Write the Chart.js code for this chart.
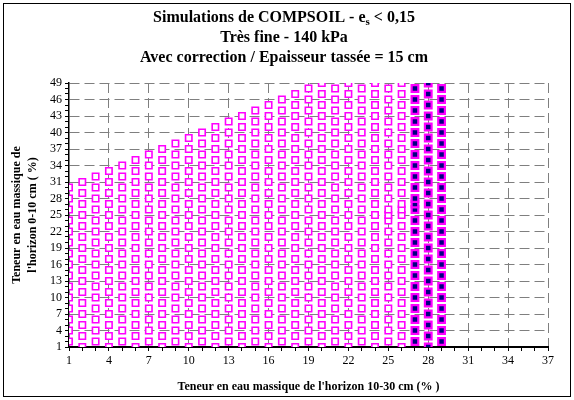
<!DOCTYPE html>
<html>
<head>
<meta charset="utf-8">
<script src="https://cdn.jsdelivr.net/npm/chart.js@4/dist/chart.umd.min.js"></script>
<style>
  html, body { margin: 0; padding: 0; background: #fff; }
  #wrap { width: 574px; height: 400px; position: relative; }
</style>
</head>
<body>
<div id="wrap"><canvas id="compsoil"></canvas></div>
<script>
"use strict";

// water content of the 10-30 cm horizon (x) and simulated points of the 0-10 cm horizon (y)
var xMagenta = [1, 2, 3, 4, 5, 6, 7, 8, 9, 10, 11, 12, 13, 14, 15, 16, 17, 18, 19, 20, 21, 22, 23, 24, 25, 26];
var yMagenta = [
  [2,4,6,8,10,12,14,16,18,20,22,24,26,28,30],
  [1,3,5,7,9,11,13,15,17,19,21,23,25,27,29,31],
  [2,4,6,8,10,12,14,16,18,20,22,24,26,28,30,32],
  [1,3,5,7,9,11,13,15,17,19,21,23,25,27,29,31,33],
  [2,4,6,8,10,12,14,16,18,20,22,24,26,28,30,32,34],
  [1,3,5,7,9,11,13,15,17,19,21,23,25,27,29,31,33,35],
  [2,4,6,8,10,12,14,16,18,20,22,24,26,28,30,32,34,36],
  [1,3,5,7,9,11,13,15,17,19,21,23,25,27,29,31,33,35,37],
  [2,4,6,8,10,12,14,16,18,20,22,24,26,28,30,32,34,36,38],
  [1,3,5,7,9,11,13,15,17,19,21,23,25,27,29,31,33,35,37,39],
  [2,4,6,8,10,12,14,16,18,20,22,24,26,28,30,32,34,36,38,40],
  [1,3,5,7,9,11,13,15,17,19,21,23,25,27,29,31,33,35,37,39,41],
  [2,4,6,8,10,12,14,16,18,20,22,24,26,28,30,32,34,36,38,40,42],
  [1,3,5,7,9,11,13,15,17,19,21,23,25,27,29,31,33,35,37,39,41,43],
  [2,4,6,8,10,12,14,16,18,20,22,24,26,28,30,32,34,36,38,40,42,44],
  [1,3,5,7,9,11,13,15,17,19,21,23,25,27,29,31,33,35,37,39,41,43,45],
  [2,4,6,8,10,12,14,16,18,20,22,24,26,28,30,32,34,36,38,40,42,44,46],
  [1,3,5,7,9,11,13,15,17,19,21,23,25,27,29,31,33,35,37,39,41,43,45,47],
  [2,4,6,8,10,12,14,16,18,20,22,24,26,28,30,32,34,36,38,40,42,44,46,48],
  [1,3,5,7,9,11,13,15,17,19,21,23,25,27,29,31,33,35,37,39,41,43,45,47,49],
  [2,4,6,8,10,12,14,16,18,20,22,24,26,28,30,32,34,36,38,40,42,44,46,48],
  [1,3,5,7,9,11,13,15,17,19,21,23,25,27,29,31,33,35,37,39,41,43,45,47,49],
  [2,4,6,8,10,12,14,16,18,20,22,24,26,28,30,32,34,36,38,40,42,44,46,48],
  [1,3,5,7,9,11,13,15,17,19,21,23,25,27,29,31,33,35,37,39,41,43,45,47,49],
  [2,4,6,8,10,12,14,16,18,20,22,24,25,26,28,30,32,34,36,38,40,42,44,46,48],
  [1,3,5,7,9,11,13,15,17,19,21,23,25,26,27,29,31,33,35,37,39,41,43,45,47,49]
];
var xNavy = [27, 28, 29];
var yNavy = [
  [2,4,6,8,10,12,14,16,18,20,22,24,26,27,28,30,32,34,36,38,40,42,44,46,48],
  [1,3,5,7,9,11,13,15,17,19,21,23,25,27,29,31,33,35,37,39,41,43,45,47,49],
  [2,4,6,8,10,12,14,16,18,20,22,24,26,28,30,32,34,36,38,40,42,44,46,48]
];
var xTickLabels = [1, 4, 7, 10, 13, 16, 19, 22, 25, 28, 31, 34, 37];
var yTickLabels = [1, 4, 7, 10, 13, 16, 19, 22, 25, 28, 31, 34, 37, 40, 43, 46, 49];

var titleLines = ['Très fine - 140 kPa', 'Avec correction / Epaisseur tassée = 15 cm'];

function toPoints(xs, ys) {
  var pts = [];
  xs.forEach(function(x, i) {
    ys[i].forEach(function(y) { pts.push({ x: x, y: y }); });
  });
  return pts;
}

var serif = "'Liberation Serif', 'Times New Roman', serif";
var gridGray = '#7f7f7f';

/* white page, outer frame and the three-line title */
var frame = {
  id: 'frame',
  beforeDraw: function(chart) {
    var c = chart.ctx;
    c.save();
    c.fillStyle = '#fff';
    c.fillRect(0, 0, chart.width, chart.height);
    c.restore();
  },
  afterDraw: function(chart) {
    var c = chart.ctx;
    c.save();
    c.strokeStyle = '#000';
    c.lineWidth = 1;
    c.strokeRect(3.5, 3.5, 567, 393);

    var cx = 284;
    c.fillStyle = '#000';
    c.textBaseline = 'middle';
    // first line has a subscript "s"
    var big = 'bold 16px ' + serif, small = 'bold 11px ' + serif;
    var a = 'Simulations de COMPSOIL - e', b = 's', d = ' < 0,15';
    c.font = big;
    var wa = c.measureText(a).width, wd = c.measureText(d).width;
    c.font = small;
    var wb = c.measureText(b).width;
    var x0 = cx - (wa + wb + wd) / 2, y0 = 18;
    c.textAlign = 'left';
    c.font = big;  c.fillText(a, x0, y0);
    c.font = small; c.fillText(b, x0 + wa, y0 + 4);
    c.font = big;  c.fillText(d, x0 + wa + wb, y0);

    c.textAlign = 'center';
    c.fillText(titleLines[0], cx, 38);
    c.fillText(titleLines[1], cx, 58);
    c.restore();
  }
};

var majorX = function(ctx) {
  var v = ctx.tick && ctx.tick.value;
  return (xTickLabels.indexOf(v) > 0) ? gridGray : 'rgba(0,0,0,0)';
};
var majorY = function(ctx) {
  var v = ctx.tick && ctx.tick.value;
  return (yTickLabels.indexOf(v) > 0) ? gridGray : 'rgba(0,0,0,0)';
};

new Chart(document.getElementById('compsoil'), {
  type: 'scatter',
  data: {
    datasets: [{
      label: 'Simulations',
      data: toPoints(xMagenta, yMagenta),
      pointStyle: 'rect',
      pointRadius: 4.5,
      borderWidth: 1.6,
      borderColor: '#ff00ff',
      backgroundColor: '#ffffff'
    }, {
      label: 'Simulations (2)',
      data: toPoints(xNavy, yNavy),
      pointStyle: 'rect',
      pointRadius: 4.7,
      borderWidth: 2.2,
      borderColor: '#ff00ff',
      backgroundColor: '#000080'
    }]
  },
  options: {
    responsive: true,
    maintainAspectRatio: false,
    animation: false,
    layout: { padding: { top: 83, right: 26, bottom: 0, left: 0 } },
    plugins: { legend: { display: false }, tooltip: { enabled: false }, title: { display: false } },
    scales: {
      x: {
        type: 'linear',
        min: 1, max: 37,
        afterFit: function(s) { s.height = 53; },
        ticks: {
          stepSize: 1, autoSkip: false, maxRotation: 0, padding: 3,
          color: '#000', font: { family: serif, size: 12 },
          callback: function(v) { return xTickLabels.indexOf(v) >= 0 ? String(v) : ''; }
        },
        grid: { color: majorX, lineWidth: 1, tickLength: 4, tickColor: '#000' },
        border: { color: '#000', width: 2, dash: [10, 5] },
        title: {
          display: true,
          text: "Teneur en eau massique de l'horizon 10-30 cm (% )",
          color: '#000', font: { family: serif, size: 12, weight: 'bold', lineHeight: 1.33 },
          padding: { top: 0, bottom: 5 }
        }
      },
      y: {
        type: 'linear',
        min: 1, max: 49,
        afterFit: function(s) { s.width = 69; },
        ticks: {
          stepSize: 1, autoSkip: false, padding: 3,
          color: '#000', font: { family: serif, size: 12 },
          callback: function(v) { return yTickLabels.indexOf(v) >= 0 ? String(v) : ''; }
        },
        grid: { color: majorY, lineWidth: 1, tickLength: 4, tickColor: '#000' },
        border: { color: '#000', width: 1.5, dash: [10, 5] },
        title: {
          display: true,
          text: ['Teneur en eau massique de', "l'horizon 0-10 cm ( %)"],
          color: '#000', font: { family: serif, size: 12, weight: 'bold', lineHeight: 1.33 },
          padding: { top: 9, bottom: 0 }
        }
      }
    }
  },
  plugins: [frame]
});
</script>
</body>
</html>
